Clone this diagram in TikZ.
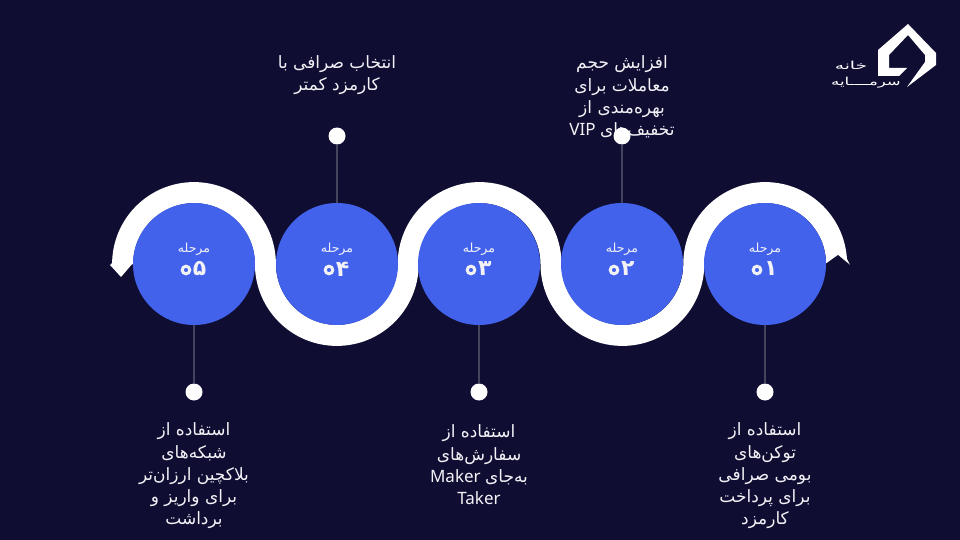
\documentclass[tikz,border=0pt]{standalone}
\usepackage{fontspec}
\setmainfont{Noto Sans}
\newfontfamily\fa[Script=Arabic]{DejaVu Sans}
\TeXXeTstate=1
\definecolor{bg}{HTML}{100D33}
\definecolor{blue}{HTML}{4262EC}
\definecolor{wire}{HTML}{45445C}
\definecolor{ink}{HTML}{F2F2F6}
\tikzset{
  stepdisc/.style={circle,fill=blue,minimum size=122pt,inner sep=0pt},
  dotnode/.style={circle,fill=white,minimum size=17pt,inner sep=0pt},
  wireline/.style={draw=wire,line width=1.4pt},
  bandline/.style={draw=white,line width=21pt,line cap=butt},
  note/.style={text=ink,align=center,font=\fontsize{17}{22.3}\selectfont,anchor=center},
  steptitle/.style={text=ink,font=\fa\fontsize{12.5}{14}\selectfont},
  stepnum/.style={text=ink,font=\fa\bfseries\fontsize{22}{24}\selectfont},
  zeroring/.style={draw=ink,fill=blue,line width=3pt},
  logotext/.style={text=white,font=\fa\fontsize{11}{12}\selectfont,inner sep=0pt},
}
\newcommand{\rl}[1]{{\fa\beginR #1\endR}}
\begin{document}
\begin{tikzpicture}[x=1pt,y=-1pt]
\fill[bg] (0,0) rectangle (960,540);
\useasboundingbox (0,0) rectangle (960,540);
% band
\draw[bandline] (122.6,264) arc[start angle=180,end angle=360,radius=71.4]
  arc[start angle=180,end angle=0,radius=71.4]
  arc[start angle=180,end angle=360,radius=71.4]
  arc[start angle=180,end angle=0,radius=71.4]
  arc[start angle=180,end angle=360,radius=71.4];
\fill[white] (110,265) -- (121,277) -- (133,263) -- (112,263) -- cycle;
\fill[white] (846,257) -- (850,265) -- (838,255) -- cycle;
\fill[bg] (824,265) -- (838,255) -- (850,265) -- (850,267) -- (824,267) -- cycle;
% notes
\node[note] (n4) at (337,75) {\rl{انتخاب صرافی با}\\\rl{کارمزد کمتر}};
\node[note] (n2) at (622,97) {\rl{افزایش حجم}\\\rl{معاملات برای}\\\rl{بهره‌مندی از}\\\beginR{\fa تخفیف‌های} VIP\endR};
\node[note] (n5) at (194,476) {\rl{استفاده از}\\\rl{شبکه‌های}\\\rl{بلاکچین ارزان‌تر}\\\rl{برای واریز و}\\\rl{برداشت}};
\node[note] (n3) at (479,465) {\rl{استفاده از}\\\rl{سفارش‌های}\\\beginR{\fa به‌جای} Maker\endR\\Taker};
\node[note] (n1) at (765,476) {\rl{استفاده از}\\\rl{توکن‌های}\\\rl{بومی صرافی}\\\rl{برای پرداخت}\\\rl{کارمزد}};
% discs, dots and connectors
\node[stepdisc] (c5) at (194,264) {};
\node[stepdisc] (c4) at (337,264) {};
\node[stepdisc] (c3) at (479,264) {};
\node[stepdisc] (c2) at (622,264) {};
\node[stepdisc] (c1) at (765,264) {};
\node[dotnode] (d5) at (194,392) {};
\node[dotnode] (d4) at (337,136) {};
\node[dotnode] (d3) at (479,392) {};
\node[dotnode] (d2) at (622,136) {};
\node[dotnode] (d1) at (765,392) {};
\foreach \i in {1,...,5}{\draw[wireline] (c\i) -- (d\i);}
\foreach \n/\x/\d in {5/194/۰۵,4/337/۰۴,3/479/۰۳,2/622/۰۲,1/765/۰۱}{
  \node[steptitle] (t\n) at (\x,249) {\beginR مرحله\endR};
  \node[stepnum] (s\n) at (\x-1,269) {\d};
  \draw[zeroring] (\x-8,270) circle[radius=3.8];
}
% logo
\fill[white] (908,24) -- (936,53) -- (936,65) -- (907,87) -- (925,62) -- (925,55) -- (908,35) -- (889,55) -- (889,68) -- (907,68) -- (899,76) -- (878,76) -- (878,50) -- cycle;
\node[logotext] (lg1) at (851,65) {\scalebox{1.7}[1]{\beginR خانه\endR}};
\node[logotext] (lg2) at (866,83) {\scalebox{1.5}[1]{\beginR سرمــــایه\endR}};
\end{tikzpicture}
\end{document}
